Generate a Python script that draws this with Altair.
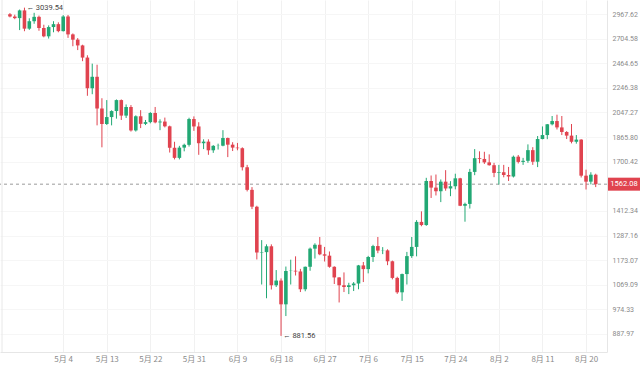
import altair as alt
import pandas as pd
import numpy as np

# ---------------- data ----------------
start_date = "2022-04-23"

opens = [2964, 2939, 2922, 3008, 2808, 2888, 2936, 2815, 2728, 2825,
         2856, 2782, 2940, 2748, 2694, 2636, 2518, 2243, 2342, 2078,
         1960, 2012, 2058, 2145, 2023, 2090, 1913, 2018, 1961, 1974,
         2043, 1972, 1978, 1943, 1792, 1725, 1793, 1812, 1997, 1942,
         1823, 1834, 1775, 1805, 1806, 1859, 1813, 1793, 1789, 1665,
         1529, 1435, 1207, 1209, 1236, 1067, 1086, 993, 1126, 1127,
         1124, 1051, 1144, 1225, 1243, 1199, 1193, 1144, 1099, 1067,
         1060, 1067, 1074, 1150, 1134, 1187, 1237, 1216, 1217, 1168,
         1097, 1039, 1113, 1191, 1233, 1355, 1339, 1581, 1542, 1521,
         1577, 1537, 1550, 1597, 1440, 1450, 1636, 1723, 1718, 1696,
         1678, 1630, 1634, 1617, 1608, 1733, 1699, 1706, 1776, 1700,
         1852, 1880, 1958, 1982, 1935, 1902, 1876, 1833, 1848, 1613,
         1577, 1619]
highs = [2978, 2960, 3018, 3039.54, 2920, 2981, 2950, 2850, 2843, 2888,
         2876, 2955, 2957, 2758, 2710, 2643, 2540, 2461, 2451, 2160,
         2145, 2064, 2150, 2150, 2110, 2105, 2025, 2065, 1990, 2050,
         2090, 1995, 2008, 1948, 1833, 1805, 1820, 2007, 2017, 1973,
         1850, 1850, 1810, 1820, 1915, 1862, 1830, 1825, 1795, 1680,
         1545, 1440, 1265, 1245, 1245, 1130, 1095, 1145, 1175, 1190,
         1135, 1145, 1230, 1250, 1280, 1233, 1212, 1146, 1100, 1120,
         1077, 1080, 1152, 1165, 1192, 1243, 1280, 1232, 1222, 1171,
         1102, 1115, 1210, 1280, 1364, 1410, 1600, 1614, 1620, 1590,
         1647, 1580, 1625, 1600, 1457, 1655, 1783, 1768, 1765, 1748,
         1693, 1680, 1680, 1667, 1740, 1744, 1725, 1815, 1796, 1873,
         1942, 1960, 2020, 2030, 2020, 1908, 1960, 1880, 1851, 1650,
         1634, 1625]
lows = [2930, 2910, 2793, 2781, 2795, 2860, 2786, 2718, 2705, 2770,
        2770, 2778, 2712, 2628, 2590, 2484, 2180, 2193, 1950, 1795,
        1953, 1950, 2000, 1990, 2005, 1905, 1905, 1930, 1952, 1965,
        1965, 1915, 1935, 1760, 1715, 1715, 1768, 1800, 1910, 1745,
        1783, 1745, 1758, 1780, 1802, 1730, 1770, 1775, 1645, 1520,
        1422, 1176, 1070, 1016, 1050, 1060, 881.56, 950, 1070, 1107,
        1040, 1043, 1127, 1180, 1195, 1167, 1140, 1072, 1000, 1040,
        1032, 1044, 1051, 1080, 1116, 1165, 1204, 1200, 1151, 1091,
        1033, 1006, 1070, 1183, 1190, 1333, 1335, 1483, 1497, 1460,
        1524, 1493, 1532, 1438, 1356, 1425, 1616, 1690, 1686, 1675,
        1604, 1560, 1603, 1581, 1602, 1689, 1680, 1693, 1680, 1666,
        1850, 1851, 1950, 1920, 1880, 1852, 1822, 1820, 1602, 1531,
        1561, 1545]
closes = [2939, 2922, 3008, 2808, 2888, 2936, 2815, 2728, 2825, 2856,
          2782, 2940, 2748, 2694, 2636, 2518, 2243, 2342, 2078, 1960,
          2012, 2058, 2145, 2023, 2090, 1913, 2018, 1961, 1974, 2043,
          1972, 1978, 1943, 1792, 1725, 1793, 1812, 1997, 1942, 1823,
          1834, 1775, 1805, 1806, 1859, 1813, 1793, 1789, 1665, 1529,
          1435, 1207, 1209, 1236, 1067, 1086, 993, 1126, 1127, 1124,
          1051, 1144, 1225, 1243, 1199, 1193, 1144, 1099, 1067, 1060,
          1067, 1074, 1150, 1134, 1187, 1237, 1216, 1217, 1168, 1097,
          1039, 1113, 1191, 1233, 1355, 1339, 1581, 1542, 1521, 1577,
          1537, 1550, 1597, 1440, 1450, 1636, 1723, 1718, 1696, 1678,
          1630, 1634, 1617, 1608, 1733, 1699, 1706, 1776, 1700, 1852,
          1880, 1958, 1982, 1935, 1902, 1876, 1833, 1848, 1613, 1577,
          1619, 1562.08]

tick_dates = ["2022-05-04", "2022-05-13", "2022-05-22", "2022-05-31",
              "2022-06-09", "2022-06-18", "2022-06-27", "2022-07-06",
              "2022-07-15", "2022-07-24", "2022-08-02", "2022-08-11",
              "2022-08-20"]
price_ticks = [2967.62, 2704.58, 2464.65, 2246.38, 2047.27, 1865.80,
               1700.42, 1412.34, 1287.16, 1173.07, 1069.09, 974.33, 887.97]
last_price = 1562.08

UP = "#22a874"
DOWN = "#e0434f"
FONT = "Noto Sans CJK SC"
NUMFONT = "Roboto"

# ---------------- tables ----------------
dates = pd.date_range(start_date, periods=len(opens), freq="D")
df = pd.DataFrame({"date": dates, "open": opens, "high": highs,
                   "low": lows, "close": closes})
df["day"] = (df["date"] - dates[0]).dt.days
df["dir"] = np.where(df["close"] >= df["open"], "up", "down")

tick_days = [(pd.Timestamp(t) - dates[0]).days for t in tick_dates]
tick_labels = [f"{pd.Timestamp(t).month}月 {pd.Timestamp(t).day}" for t in tick_dates]
label_expr = ""
for d, l in zip(tick_days, tick_labels):
    label_expr += f"datum.value == {d} ? '{l}' : "
label_expr += "''"

imax = int(df["high"].idxmax())
imin = int(df["low"].idxmin())
ann = pd.DataFrame({
    "day": [df["day"][imax], df["day"][imin]],
    "price": [df["high"][imax], df["low"][imin]],
    "label": [f"← {df['high'][imax]:.2f}", f"← {df['low'][imin]:.2f}"],
})
last_df = pd.DataFrame({"price": [last_price], "label": [f"{last_price:.2f}"]})

# ---------------- scales ----------------
xscale = alt.Scale(domain=[-1.02, 122.3], nice=False, zero=False)
yscale = alt.Scale(type="log", domain=[829.6, 3128.5], nice=False, zero=False)
cscale = alt.Scale(domain=["up", "down"], range=[UP, DOWN])

base = alt.Chart(df)

wicks = base.mark_rule(strokeWidth=1).encode(
    x=alt.X("day:Q", scale=xscale, title=None,
            axis=alt.Axis(values=tick_days, labelExpr=label_expr, orient="bottom",
                          grid=True, gridColor="#f1f1f1", ticks=False,
                          domainColor="#e6e6e6", labelColor="#8a8a8a",
                          labelFontSize=8, labelFont=FONT, labelPadding=3)),
    y=alt.Y("low:Q", scale=yscale, title=None,
            axis=alt.Axis(values=price_ticks, format=".2f", orient="right",
                          grid=True, gridColor="#f6f6f6", ticks=False,
                          domainColor="#e6e6e6", labelColor="#8a8a8a",
                          labelFontSize=7, labelFont=NUMFONT, labelPadding=5)),
    y2="high:Q",
    color=alt.Color("dir:N", scale=cscale, legend=None),
)

bodies = base.mark_bar(size=3.6).encode(
    x=alt.X("day:Q", scale=xscale),
    y=alt.Y("open:Q", scale=yscale),
    y2="close:Q",
    color=alt.Color("dir:N", scale=cscale, legend=None),
)

last_line = alt.Chart(last_df).mark_rule(
    color="#9a9a9a", strokeDash=[3, 3], strokeWidth=1
).encode(y=alt.Y("price:Q", scale=yscale))

tag = alt.Chart(last_df).mark_rule(
    color=DOWN, strokeWidth=13, strokeCap="butt"
).encode(x=alt.value(608), x2=alt.value(640), y=alt.Y("price:Q", scale=yscale))

tag_text = alt.Chart(last_df).mark_text(
    color="white", fontSize=7.5, font=NUMFONT, align="center", baseline="middle"
).encode(x=alt.value(624), y=alt.Y("price:Q", scale=yscale), text="label:N")

ann_text = alt.Chart(ann).mark_text(
    color="#444", fontSize=7.5, font=NUMFONT, align="left", baseline="middle", dx=2
).encode(x=alt.X("day:Q", scale=xscale), y=alt.Y("price:Q", scale=yscale),
         text="label:N")

left_border = alt.Chart(last_df).mark_rule(color="#e8e8e8").encode(
    x=alt.value(2), y=alt.value(0), y2=alt.value(352))

chart = alt.layer(
    left_border, last_line, wicks, bodies, tag, tag_text, ann_text
).properties(
    width=607, height=352,
    autosize=alt.AutoSizeParams(type="none"),
    padding={"left": 0, "top": 0, "right": 33, "bottom": 18},
    background="white",
).configure_view(stroke=None)

chart.save("out.html", embed_options={"renderer": "svg", "actions": False})
